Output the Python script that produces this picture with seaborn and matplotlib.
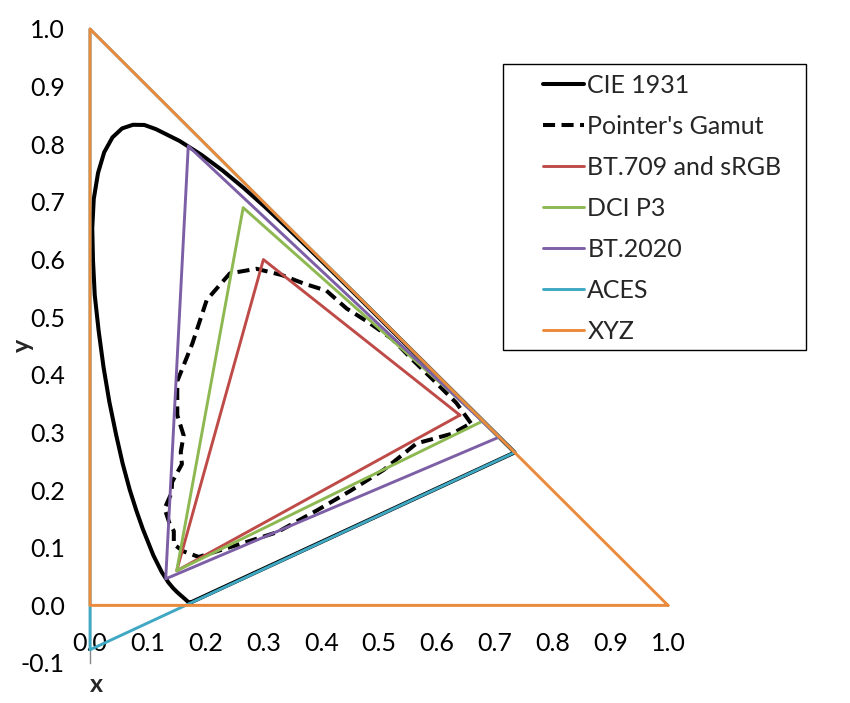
import matplotlib
matplotlib.use("Agg")
import matplotlib.pyplot as plt
import matplotlib.patches as patches
import pandas as pd
import seaborn as sns

# CIE 1931 spectral locus (380-700 nm), closed by the line of purples
cie_x = [0.1741, 0.1740, 0.1738, 0.1736, 0.1733, 0.1730, 0.1726, 0.1721, 0.1714, 0.1703,
         0.1689, 0.1669, 0.1644, 0.1611, 0.1566, 0.1510, 0.1440, 0.1355, 0.1241, 0.1096,
         0.0913, 0.0800, 0.0687, 0.0565, 0.0454, 0.0335, 0.0235, 0.0150, 0.0082, 0.0052,
         0.0039, 0.0065, 0.0139, 0.0245, 0.0389, 0.0555, 0.0743, 0.0940, 0.1142,
         0.1547, 0.1929, 0.2296, 0.2658, 0.3016, 0.3373, 0.3731, 0.4087, 0.4441, 0.4788,
         0.5125, 0.5448, 0.5752, 0.6029, 0.6270, 0.6482, 0.6658, 0.6801, 0.6915, 0.7006,
         0.7079, 0.7140, 0.7190, 0.7230, 0.7260, 0.7283, 0.7300, 0.7311, 0.7320, 0.7327,
         0.7334, 0.7340, 0.7344, 0.7346, 0.7347, 0.1741]
cie_y = [0.0050, 0.0050, 0.0049, 0.0049, 0.0048, 0.0048, 0.0048, 0.0048, 0.0051, 0.0058,
         0.0069, 0.0086, 0.0109, 0.0138, 0.0177, 0.0227, 0.0297, 0.0399, 0.0578, 0.0868,
         0.1327, 0.1650, 0.2007, 0.2460, 0.2950, 0.3530, 0.4127, 0.4760, 0.5384, 0.5980,
         0.6548, 0.7050, 0.7502, 0.7860, 0.8120, 0.8275, 0.8338, 0.8335, 0.8262,
         0.8059, 0.7816, 0.7543, 0.7243, 0.6923, 0.6589, 0.6245, 0.5896, 0.5547, 0.5202,
         0.4866, 0.4544, 0.4242, 0.3965, 0.3725, 0.3514, 0.3340, 0.3197, 0.3083, 0.2993,
         0.2920, 0.2859, 0.2809, 0.2770, 0.2740, 0.2717, 0.2700, 0.2689, 0.2680, 0.2673,
         0.2666, 0.2660, 0.2656, 0.2654, 0.2653, 0.0050]

# Pointer's gamut boundary
pointer_x = [0.659, 0.634, 0.594, 0.557, 0.523, 0.482, 0.444, 0.409, 0.371, 0.332,
             0.288, 0.242, 0.202, 0.177, 0.151, 0.151, 0.162, 0.157, 0.159, 0.142,
             0.141, 0.129, 0.138, 0.145, 0.145, 0.161, 0.188, 0.252, 0.324, 0.393,
             0.451, 0.508, 0.565, 0.627, 0.659]
pointer_y = [0.316, 0.351, 0.391, 0.427, 0.462, 0.491, 0.515, 0.546, 0.558, 0.573,
             0.584, 0.576, 0.530, 0.454, 0.389, 0.330, 0.295, 0.266, 0.245, 0.214,
             0.195, 0.168, 0.141, 0.129, 0.106, 0.094, 0.084, 0.104, 0.127, 0.165,
             0.199, 0.235, 0.281, 0.298, 0.316]

# RGB primaries of each gamut (R, G, B, back to R)
bt709_x = [0.64, 0.30, 0.15, 0.64]
bt709_y = [0.33, 0.60, 0.06, 0.33]
p3_x = [0.680, 0.265, 0.150, 0.680]
p3_y = [0.320, 0.690, 0.060, 0.320]
bt2020_x = [0.708, 0.170, 0.131, 0.708]
bt2020_y = [0.292, 0.797, 0.046, 0.292]
aces_x = [0.7347, 0.0, 0.0001, 0.7347]
aces_y = [0.2653, 1.0, -0.0770, 0.2653]
xyz_x = [1.0, 0.0, 0.0, 1.0]
xyz_y = [0.0, 1.0, 0.0, 0.0]

series = [
    ("CIE 1931", cie_x, cie_y, "black", 2.9, "-"),
    ("Pointer's Gamut", pointer_x, pointer_y, "black", 2.9, (0, (3, 1.6))),
    ("BT.709 and sRGB", bt709_x, bt709_y, "#BE4B48", 2.1, "-"),
    ("DCI P3", p3_x, p3_y, "#8DB852", 2.1, "-"),
    ("BT.2020", bt2020_x, bt2020_y, "#7D5FA5", 2.1, "-"),
    ("ACES", aces_x, aces_y, "#3FA8C2", 2.1, "-"),
    ("XYZ", xyz_x, xyz_y, "#EB8A3A", 2.1, "-"),
]

sns.set_style("white")
plt.rcParams['font.family'] = ['Lato', 'DejaVu Sans']

fig = plt.figure(figsize=(8.5, 7.03), dpi=100)
ax = fig.add_axes([90 / 850, 40 / 703, 578 / 850, 634 / 703])

for i, (name, xs, ys, col, lw, ls) in enumerate(series):
    d = pd.DataFrame({"x": xs, "y": ys})
    sns.lineplot(data=d, x="x", y="y", sort=False, estimator=None, ax=ax,
                 color=col, linewidth=lw, linestyle=ls, label=name,
                 clip_on=False, zorder=3 + i)

ax.set_xlim(0, 1.0)
ax.set_ylim(-0.1, 1.0)
ax.set_xticks([i / 10 for i in range(11)])
ax.set_yticks([i / 10 for i in range(-1, 11)])
ax.set_xticklabels([f"{i / 10:.1f}" for i in range(11)])
ax.set_yticklabels([f"{i / 10:.1f}" for i in range(-1, 11)])

for s in ["top", "right"]:
    ax.spines[s].set_visible(False)
ax.spines["bottom"].set_position(("data", 0))
for s in ["left", "bottom"]:
    ax.spines[s].set_color("#868686")
    ax.spines[s].set_linewidth(1.0)
    ax.spines[s].set_zorder(2)

ax.tick_params(axis="x", direction="out", length=4, width=1, color="#868686",
               pad=15, labelsize=18, labelcolor="black")
ax.tick_params(axis="y", direction="out", length=7, width=1, color="#868686",
               pad=11, labelsize=18, labelcolor="black")

ax.set_xlabel("x", fontsize=18, fontweight="bold")
ax.set_ylabel("y", fontsize=18, fontweight="bold")
ax.xaxis.set_label_coords(6 / 578, (663 - 685) / 634)
ax.xaxis.label.set_va("center")
ax.yaxis.set_label_coords(-68 / 578, (663 - 345) / 634)
ax.yaxis.label.set_va("center")

leg = ax.legend(loc="upper left", bbox_to_anchor=(543 / 850, (703 - 74) / 703),
                bbox_transform=fig.transFigure, frameon=False, borderpad=0,
                borderaxespad=0, fontsize=18, handlelength=1.65,
                handletextpad=0.12, labelspacing=0.72)
fig.add_artist(patches.Rectangle((503 / 850, (703 - 350) / 703), 303 / 850, 286 / 703,
                                 transform=fig.transFigure, fill=False,
                                 edgecolor="black", linewidth=1.0))

fig.savefig("out.png", dpi=100)
